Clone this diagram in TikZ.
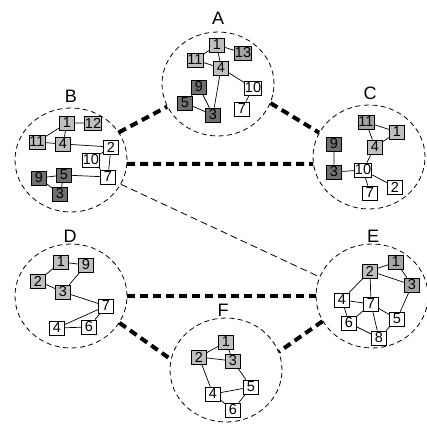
\documentclass[tikz,border=0pt]{standalone}
\usepackage{fontspec}
\setmainfont{Liberation Sans}
\usetikzlibrary{shapes.geometric}
\definecolor{ltg}{HTML}{BFBFBF}
\definecolor{mdg}{HTML}{A4A4A4}
\definecolor{dkg}{HTML}{707070}
\tikzset{
  cl/.style={ellipse,draw,line width=0.8pt,dash pattern=on 5pt off 3.5pt,minimum width=112pt,minimum height=104pt,inner sep=0pt},
  box/.style={rectangle,draw,line width=0.7pt,minimum width=15pt,minimum height=14pt,inner sep=0.5pt,font=\fontsize{14.5}{14.5}\selectfont},
  lt/.style={box,fill=ltg},
  md/.style={box,fill=mdg},
  dk/.style={box,fill=dkg},
  wt/.style={box,fill=white},
  lbl/.style={font=\fontsize{18}{18}\selectfont,inner sep=0pt},
  ed/.style={line width=0.7pt},
  heavy/.style={line width=4pt,dash pattern=on 8pt off 5pt},
  slim/.style={line width=0.8pt,dash pattern=on 7pt off 4pt}
}
\begin{document}
\begin{tikzpicture}[x=1pt,y=-1pt]
\useasboundingbox (0,0) rectangle (427,425);
% clusters
\node[cl] (A) at (218,84) {};
\node[cl] (B) at (71,160) {};
\node[cl] (C) at (369,157) {};
\node[cl] (D) at (71,296) {};
\node[cl] (E) at (372,296) {};
\node[cl] (F) at (226,370) {};
\node[lbl] (LA) at (218,18) {A};
\node[lbl] (LB) at (71,96) {B};
\node[lbl] (LC) at (370,93) {C};
\node[lbl] (LD) at (70,236) {D};
\node[lbl] (LE) at (373,236) {E};
\node[lbl] (LF) at (223,310) {F};
% inter-cluster links
\draw[heavy] (B.30) -- (A.204);
\draw[heavy] (A.-20) -- (C.154);
\draw[heavy] (B.-4) -- (C.187);
\draw[slim] (B.-26) -- (E.160);
\draw[heavy] (D.0) -- (E.180);
\draw[heavy] (D.-29) -- (F.169);
\draw[heavy] (E.207) -- (F.19);
% A
\node[lt] (A1) at (217,45) {1};
\node[md] (A13) at (243,53) {13};
\node[lt] (A11) at (195,60) {11};
\node[lt] (A4) at (221,68) {4};
\node[wt] (A10) at (253,88) {10};
\node[dk] (A9) at (199,87) {9};
\node[dk] (A5) at (185,103) {5};
\node[dk] (A3) at (213,115) {3};
\node[wt] (A7) at (242,109) {7};
\draw[ed] (A1)--(A11) (A1)--(A13) (A1)--(A4) (A11)--(A4) (A4)--(A10) (A4)--(A3) (A9)--(A5) (A9)--(A3) (A5)--(A3) (A10)--(A7);
% B
\node[lt] (B1) at (67,123) {1};
\node[lt] (B12) at (93,123) {12};
\node[lt] (B11) at (37,142) {11};
\node[lt] (B4) at (63,144) {4};
\node[wt] (B2) at (111,147) {2};
\node[wt] (B10) at (91,160) {10};
\node[dk] (B9) at (39,178) {9};
\node[dk] (B5) at (64,175) {5};
\node[wt] (B7) at (108,177) {7};
\node[dk] (B3) at (60,194) {3};
\draw[ed] (B1)--(B12) (B1)--(B11) (B1)--(B4) (B11)--(B4) (B4)--(B2) (B2)--(B10) (B2)--(B7) (B10)--(B7) (B5)--(B7) (B9)--(B5) (B9)--(B3) (B5)--(B3);
% C
\node[md] (C11) at (366,122) {11};
\node[lt] (C1) at (397,132) {1};
\node[dk] (C9) at (334,144) {9};
\node[lt] (C4) at (375,147) {4};
\node[dk] (C3) at (334,172) {3};
\node[wt] (C10) at (363,170) {10};
\node[wt] (C2) at (395,187) {2};
\node[wt] (C7) at (370,193) {7};
\draw[ed] (C11)--(C1) (C11)--(C4) (C4)--(C1) (C4)--(C10) (C3)--(C10) (C9)--(C3) (C10)--(C2) (C10)--(C7);
% D
\node[lt] (D1) at (61,262) {1};
\node[lt] (D9) at (86,265) {9};
\node[lt] (D2) at (38,281) {2};
\node[lt] (D3) at (63,292) {3};
\node[wt] (D7) at (106,306) {7};
\node[wt] (D4) at (57,328) {4};
\node[wt] (D6) at (89,327) {6};
\draw[ed] (D1)--(D9) (D1)--(D2) (D2)--(D3) (D9)--(D3) (D3)--(D7) (D7)--(D4) (D7)--(D6) (D4)--(D6);
% E
\node[md] (E1) at (396,262) {1};
\node[lt] (E2) at (370,271) {2};
\node[md] (E3) at (412,285) {3};
\node[wt] (E4) at (342,300) {4};
\node[wt] (E7) at (371,304) {7};
\node[wt] (E5) at (397,319) {5};
\node[wt] (E6) at (349,323) {6};
\node[wt] (E8) at (379,338) {8};
\draw[ed] (E2)--(E1) (E1)--(E3) (E2)--(E3) (E2)--(E4) (E2)--(E7) (E4)--(E7) (E4)--(E6) (E7)--(E6) (E7)--(E8) (E7)--(E5) (E3)--(E5) (E5)--(E8) (E6)--(E8);
% F
\node[lt] (F1) at (226,342) {1};
\node[lt] (F2) at (199,357) {2};
\node[lt] (F3) at (233,361) {3};
\node[wt] (F5) at (251,387) {5};
\node[wt] (F4) at (213,394) {4};
\node[wt] (F6) at (233,410) {6};
\draw[ed] (F1)--(F2) (F1)--(F3) (F2)--(F3) (F2)--(F4) (F3)--(F5) (F4)--(F5) (F4)--(F6) (F6)--(F5);
\end{tikzpicture}
\end{document}
